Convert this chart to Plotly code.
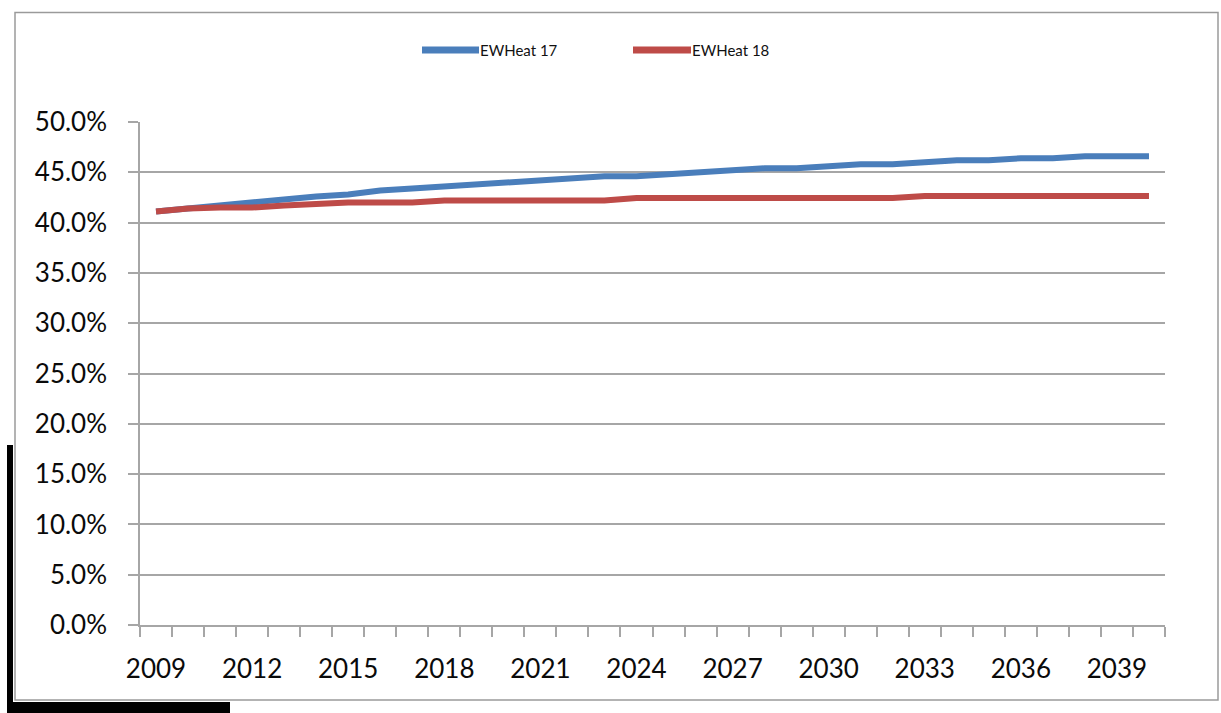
import plotly.graph_objects as go

# Share of heating load, percent, by year
years = list(range(2009, 2041))
ewheat17 = [41.1, 41.4, 41.8, 42.1, 42.3, 42.6, 42.8, 43.2, 43.4, 43.6, 43.8,
            44.0, 44.2, 44.4, 44.6, 44.6, 44.8, 45.0, 45.2, 45.4, 45.4, 45.6,
            45.8, 45.8, 46.0, 46.2, 46.2, 46.4, 46.4, 46.6, 46.6, 46.6]
ewheat18 = [41.1, 41.4, 41.5, 41.5, 41.7, 41.9, 42.0, 42.0, 42.0, 42.2, 42.2,
            42.2, 42.2, 42.2, 42.2, 42.45, 42.45, 42.45, 42.45, 42.45, 42.45, 42.45,
            42.45, 42.45, 42.65, 42.65, 42.65, 42.65, 42.65, 42.65, 42.65, 42.65]
series_names = ["EWHeat 17", "EWHeat 18"]
series_colors = ["#4a7ebb", "#be4b48"]
label_years = list(range(2009, 2041, 3))
y_ticks = [0, 5, 10, 15, 20, 25, 30, 35, 40, 45, 50]

W, H = 1221, 713
L, R, T, B = 140, 56, 122, 88
pw, ph = W - L - R, H - T - B


def px_x(p):
    return (p - L) / pw


def px_y(p):
    return (H - B - p) / ph


grid = "#a6a6a6"
font_family = "Lato, 'Open Sans', sans-serif"
tick_font = dict(size=26, color="#0a0a0a")

fig = go.Figure()
for name, vals, col in zip(series_names, [ewheat17, ewheat18], series_colors):
    fig.add_trace(go.Scatter(x=years, y=vals, mode="lines", name=name,
                             line=dict(color=col, width=6), showlegend=False))

fig.update_layout(
    width=W, height=H,
    margin=dict(l=L, r=R, t=T, b=B),
    paper_bgcolor="white", plot_bgcolor="white",
    font=dict(family=font_family, color="#1a1a1a"),
    xaxis=dict(
        range=[2008.5, 2040.5], tickmode="array", tickvals=label_years,
        ticktext=[str(y) for y in label_years], ticks="", showgrid=False,
        zeroline=False, showline=True, linecolor=grid, linewidth=1.5,
        tickfont=tick_font, ticklabelstandoff=20,
        minor=dict(tickmode="linear", tick0=2008.5, dtick=1, ticks="outside",
                   ticklen=10, tickcolor=grid, tickwidth=1.5, showgrid=False),
    ),
    yaxis=dict(
        range=[0, 50], tickmode="array", tickvals=y_ticks,
        ticktext=[f"{v:.1f}%" for v in y_ticks], ticks="outside", ticklen=10,
        tickcolor=grid, tickwidth=1.5, showgrid=True, gridcolor=grid, gridwidth=1.5,
        zeroline=False, showline=True, linecolor=grid, linewidth=1.5,
        tickfont=tick_font, ticklabelstandoff=16,
    ),
)

shapes = [
    # chart frame
    dict(type="rect", xref="paper", yref="paper",
         x0=px_x(15), x1=px_x(1218), y0=px_y(700), y1=px_y(12.5),
         line=dict(color="#9a9a9a", width=1.5), fillcolor="rgba(0,0,0,0)", layer="below"),
    # dark edges at the lower left
    dict(type="rect", xref="paper", yref="paper",
         x0=px_x(7), x1=px_x(13), y0=px_y(713), y1=px_y(445),
         line=dict(width=0), fillcolor="black"),
    dict(type="rect", xref="paper", yref="paper",
         x0=px_x(7), x1=px_x(230), y0=px_y(713), y1=px_y(702),
         line=dict(width=0), fillcolor="black"),
]

# legend swatches and labels
legend_pos = [(422, 479, 480), (633, 691, 692)]
annotations = []
for (x0, x1, xt), name, col in zip(legend_pos, series_names, series_colors):
    shapes.append(dict(type="line", xref="paper", yref="paper",
                       x0=px_x(x0), x1=px_x(x1), y0=px_y(50), y1=px_y(50),
                       line=dict(color=col, width=7)))
    annotations.append(dict(xref="paper", yref="paper", x=px_x(xt), y=px_y(50),
                            text=name, showarrow=False, xanchor="left", yanchor="middle",
                            xshift=-2,
                            font=dict(size=15, color="#111111", family=font_family)))

fig.update_layout(shapes=shapes, annotations=annotations)
fig.write_html("out.html")
